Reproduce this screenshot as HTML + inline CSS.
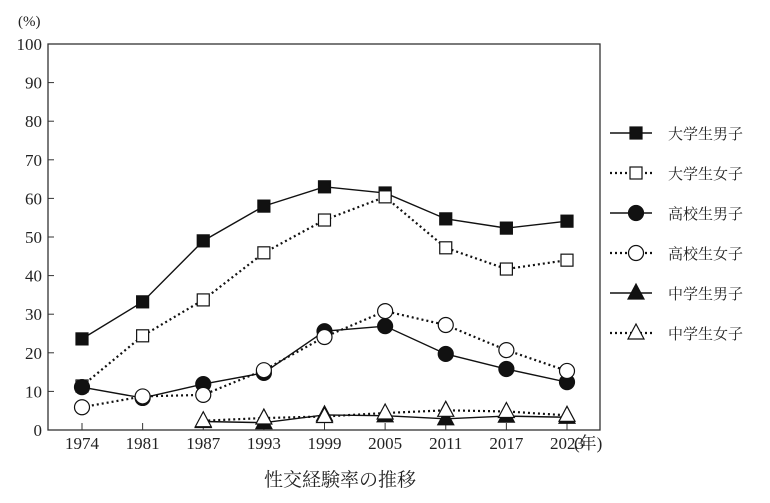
<!DOCTYPE html>
<html><head><meta charset="utf-8"><style>
body{margin:0;background:#fff}
svg text{font-family:"Liberation Serif","Noto Serif CJK SC",serif;fill:#222}
</style></head><body>
<svg id="c" width="770" height="498"></svg>
<script>
const years=["1974","1981","1987","1993","1999","2005","2011","2017","2023"];
const yTicks=[0,10,20,30,40,50,60,70,80,90,100];
const univMale=[23.6,33.2,49,58,63,61.4,54.7,52.3,54.1];
const univFemale=[11.4,24.4,33.7,45.9,54.4,60.4,47.2,41.7,44.0];
const hsMale=[11.1,8.3,11.9,14.8,25.6,26.9,19.7,15.8,12.4];
const hsFemale=[5.9,8.7,9.1,15.5,24.1,30.8,27.2,20.7,15.3];
const jhMale=[null,null,2.2,1.9,3.9,3.7,2.9,3.6,3.3];
const jhFemale=[null,null,2.4,3.1,3.5,4.4,5.1,4.8,3.8];
const names=["大学生男子","大学生女子","高校生男子","高校生女子","中学生男子","中学生女子"];
const L=48,R=600,T=44,B=430;
const x=i=>82+i*(567-82)/(years.length-1);
const y=v=>B-(v/100)*(B-T);
const s=document.getElementById('c');const NS="http://www.w3.org/2000/svg";
function mk(t,a,p){const e=document.createElementNS(NS,t);for(const k in a)e.setAttribute(k,a[k]);(p||s).appendChild(e);return e;}
let e=mk('rect',{x:L,y:T,width:R-L,height:B-T,fill:'none',stroke:'#333','stroke-width':1.3});

yTicks.forEach(v=>{const t=mk('text',{x:42,y:y(v)+6,'text-anchor':'end','font-size':17});t.textContent=v;

mk('line',{x1:L,x2:L+6,y1:y(v),y2:y(v),stroke:'#333'});});
years.forEach((yr,i)=>{mk('line',{x1:x(i),x2:x(i),y1:B,y2:B-7,stroke:'#333'});
const t=mk('text',{x:x(i),y:B+19,'text-anchor':'middle','font-size':17});t.textContent=yr;
});
let t=mk('text',{x:18,y:26,'font-size':15});t.textContent="(%)";

t=mk('text',{x:574,y:B+19,'font-size':17});t.textContent="(年)";

t=mk('text',{x:340,y:486,'text-anchor':'middle','font-size':19});t.textContent="性交経験率の推移";

function marker(g,type,fill,cx,cy){
 if(type==='sq')mk('rect',{x:cx-6,y:cy-6,width:12,height:12,fill:fill,stroke:'#111','stroke-width':1.2},g);
 else if(type==='ci')mk('circle',{cx:cx,cy:cy,r:7.5,fill:fill,stroke:'#111','stroke-width':1.2},g);
 else mk('polygon',{points:`${cx},${cy-9} ${cx-8},${cy+6} ${cx+8},${cy+6}`,fill:fill,stroke:'#111','stroke-width':1.2},g);
}
const series=[[univMale,'sq','#111',0],[univFemale,'sq','#fff',1],[hsMale,'ci','#111',0],[hsFemale,'ci','#fff',1],[jhMale,'tr','#111',0],[jhFemale,'tr','#fff',1]];
series.forEach((sr,k)=>{const [d,type,fill,dot]=sr;const g=mk('g',{});

const pts=d.map((v,i)=>v==null?null:[x(i),y(v)]).filter(p=>p);
mk('polyline',{points:pts.map(p=>p.join(',')).join(' '),fill:'none',stroke:'#111','stroke-width':dot?2.2:1.4,'stroke-dasharray':dot?'2 3':'none'},g);
pts.forEach(p=>marker(g,type,fill,p[0],p[1]));
const ly=133+k*40;const lg=mk('g',{});

mk('line',{x1:610,x2:652,y1:ly,y2:ly,stroke:'#111','stroke-width':dot?2.2:1.4,'stroke-dasharray':dot?'2 3':'none'},lg);
marker(lg,type,fill,636,ly);
const lt=mk('text',{x:668,y:ly+6,'font-size':15},lg);lt.textContent=names[k];});
</script></body></html>
